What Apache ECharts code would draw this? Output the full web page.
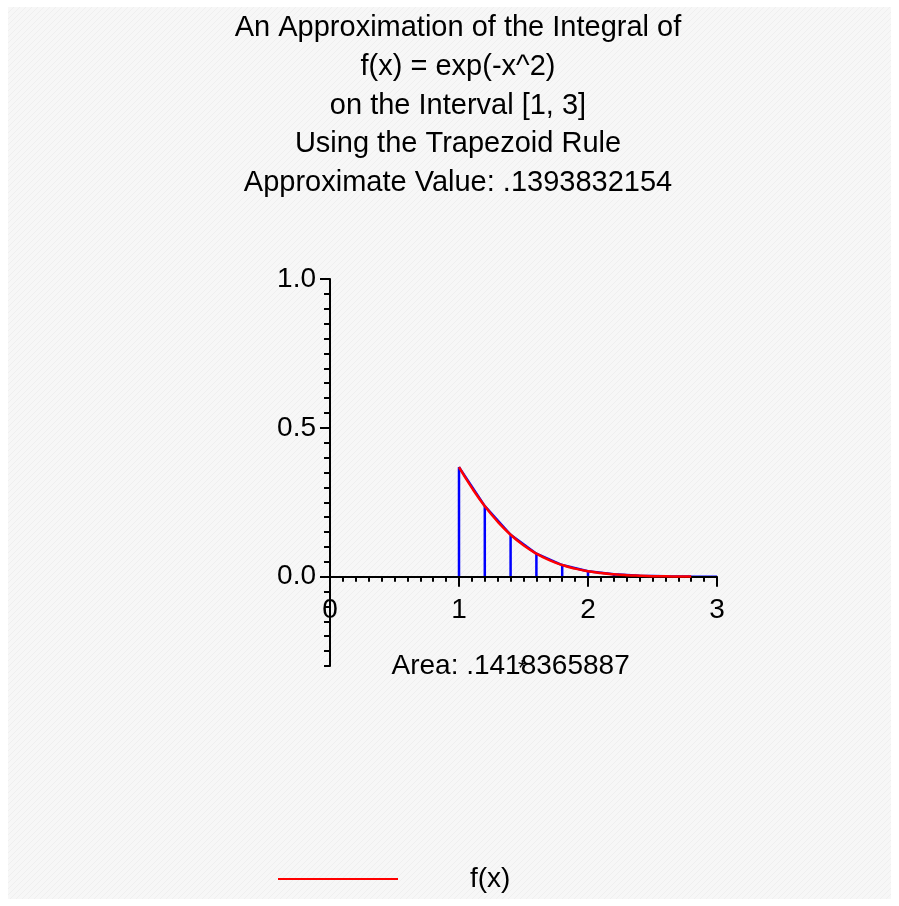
<!DOCTYPE html>
<html>
<head>
<meta charset="utf-8">
<script src="https://cdn.jsdelivr.net/npm/echarts@6/dist/echarts.min.js"></script>
<style>
html,body{margin:0;padding:0;background:#fff;}
#chart{width:899px;height:906px;}
</style>
</head>
<body>
<div id="chart"></div>
<script>
// ---- data ----
var titleLines = [
  'An Approximation of the Integral of',
  'f(x) = exp(-x^2)',
  'on the Interval [1, 3]',
  'Using the Trapezoid Rule',
  'Approximate Value: .1393832154'
];
// trapezoid nodes
var trapX = [1.0, 1.2, 1.4, 1.6, 1.8, 2.0, 2.2, 2.4, 2.6, 2.8, 3.0];
var trapY = [0.3679, 0.2369, 0.1409, 0.0773, 0.0392, 0.0183, 0.0079, 0.0032, 0.0012, 0.0004, 0.0001];
// red curve samples
var curveX = [1.0, 1.1, 1.2, 1.3, 1.4, 1.5, 1.6, 1.7, 1.8, 1.9, 2.0, 2.1, 2.2, 2.3, 2.4, 2.5, 2.6, 2.7, 2.8];
var curveY = [0.3679, 0.2982, 0.2369, 0.1845, 0.1409, 0.1054, 0.0773, 0.0556, 0.0392, 0.0271, 0.0183, 0.0122, 0.0079, 0.0050, 0.0032, 0.0019, 0.0012, 0.0007, 0.0004];
var areaText = 'Area: .1418365887';
var areaPoint = [1.4, -0.3];
var starPoint = [1.49, -0.285];
var yLabelValues = [0, 0.5, 1];
var seriesName = 'f(x)';

// ---- build series data ----
var trapData = [];
for (var i = 0; i < trapX.length - 1; i++) {
  trapData.push([trapX[i], 0]);
  trapData.push([trapX[i], trapY[i]]);
  trapData.push([trapX[i + 1], trapY[i + 1]]);
  trapData.push([trapX[i + 1], 0]);
}
var curveData = curveX.map(function (x, i) { return [x, curveY[i]]; });

// hatch pattern for background
var pc = document.createElement('canvas');
pc.width = 6; pc.height = 6;
var g = pc.getContext('2d');
g.fillStyle = '#f7f7f7'; g.fillRect(0, 0, 6, 6);
g.strokeStyle = '#efefef'; g.lineWidth = 1;
g.beginPath(); g.moveTo(0, 6); g.lineTo(6, 0); g.stroke();

var FONT = '"Liberation Sans", Arial, sans-serif';
var Y_MIN = -0.3, Y_MAX = 1;
var gridTop = 279, gridBottom = 240, chartH = 906;
var plotH = chartH - gridTop - gridBottom;
// move the x axis up onto the y = 0 line
var xOffset = -plotH * (0 - Y_MIN) / (Y_MAX - Y_MIN);

var chart = echarts.init(document.getElementById('chart'), null, {renderer: 'canvas'});
chart.setOption({
  animation: false,
  backgroundColor: '#ffffff',
  graphic: [{
    type: 'rect', left: 8, top: 7, z: -100,
    shape: {width: 883, height: 892},
    style: {fill: {image: pc, repeat: 'repeat'}}
  }],
  title: {
    text: titleLines.join('\n'),
    left: 453, top: 4, textAlign: 'center',
    textStyle: {fontFamily: FONT, fontSize: 29, fontWeight: 'normal', color: '#000', lineHeight: 38.7}
  },
  legend: {
    data: [seriesName],
    left: 273, top: 860,
    icon: 'rect', itemWidth: 120, itemHeight: 2,
    textStyle: {fontFamily: FONT, fontSize: 28, color: '#000', padding: [0, 0, 0, 67]}
  },
  grid: {left: 330, right: 182, top: gridTop, bottom: gridBottom, containLabel: false},
  xAxis: {
    type: 'value', min: 0, max: 3, interval: 1, position: 'bottom', offset: xOffset, z: 3,
    axisLine: {onZero: false, lineStyle: {color: '#000', width: 2}},
    axisTick: {show: true, length: 10, lineStyle: {color: '#000', width: 2}},
    minorTick: {show: true, splitNumber: 10, length: 5, lineStyle: {color: '#000', width: 2}},
    splitLine: {show: false}, minorSplitLine: {show: false},
    axisLabel: {fontFamily: FONT, fontSize: 28, color: '#000', margin: 20}
  },
  yAxis: [{
    type: 'value', min: Y_MIN, max: Y_MAX, interval: 0.05,
    axisLine: {show: true, onZero: false, lineStyle: {color: '#000', width: 2}},
    axisTick: {show: true, length: 6, lineStyle: {color: '#000', width: 2}},
    axisLabel: {show: false},
    splitLine: {show: false}
  }, {
    type: 'value', min: Y_MIN, max: Y_MAX, position: 'left', offset: 0,
    axisLine: {show: false, onZero: false},
    axisTick: {show: true, customValues: yLabelValues, length: 10, lineStyle: {color: '#000', width: 2}},
    axisLabel: {show: true, customValues: yLabelValues, fontFamily: FONT, fontSize: 28, color: '#000', margin: 14,
      formatter: function (v) { return Number(v).toFixed(1); }},
    splitLine: {show: false}
  }],
  series: [{
    name: 'trapezoids', type: 'line', data: trapData, symbol: 'none',
    lineStyle: {color: '#0000ff', width: 2.5}, z: 2, silent: true
  }, {
    name: seriesName, type: 'line', data: curveData, symbol: 'none', smooth: true,
    itemStyle: {color: '#ff0000'},
    lineStyle: {color: '#ff0000', width: 2.5}, z: 4
  }, {
    name: 'areaNote', type: 'scatter', data: [areaPoint], symbol: 'circle', symbolSize: 0,
    itemStyle: {color: '#000', opacity: 1},
    label: {show: true, position: [0, 0], align: 'center', verticalAlign: 'middle', formatter: areaText,
      fontFamily: FONT, fontSize: 28, color: '#000', opacity: 1},
    z: 5, silent: true
  }, {
    name: 'star', type: 'scatter', data: [starPoint], symbol: 'circle', symbolSize: 0,
    itemStyle: {color: '#000', opacity: 1},
    label: {show: true, position: [0, 0], align: 'center', verticalAlign: 'middle', offset: [0, 7], formatter: '*',
      fontFamily: FONT, fontSize: 22, color: '#000', opacity: 1},
    z: 6, silent: true
  }]
});
</script>
</body>
</html>
